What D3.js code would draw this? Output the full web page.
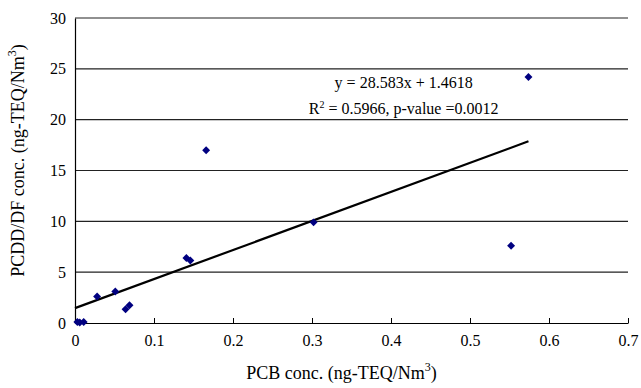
<!DOCTYPE html>
<html>
<head>
<meta charset="utf-8">
<script src="https://cdn.jsdelivr.net/npm/d3@7"></script>
<style>
  body { margin: 0; background: #fff; }
  svg text { font-family: "Liberation Serif", "Times New Roman", serif; fill: #000; }
</style>
</head>
<body>
<div id="chart"></div>
<script>
// PCB vs PCDD/DF concentrations
const pcb   = [0.003, 0.006, 0.011, 0.028, 0.051, 0.064, 0.069, 0.141, 0.146, 0.166, 0.302, 0.552, 0.574];
const pcdd  = [0.1, 0.05, 0.1, 2.6, 3.1, 1.35, 1.75, 6.4, 6.15, 17.0, 9.9, 7.6, 24.2];
const xTicks = [0, 0.1, 0.2, 0.3, 0.4, 0.5, 0.6, 0.7];
const yTicks = [0, 5, 10, 15, 20, 25, 30];
const slope = 28.583, intercept = 1.4618;

const width = 641, height = 388;
const margin = { top: 18, right: 13, bottom: 65, left: 75 };
const w = width - margin.left - margin.right;
const h = height - margin.top - margin.bottom;

const svg = d3.select('#chart').append('svg')
  .attr('width', width)
  .attr('height', height);

const g = svg.append('g')
  .attr('transform', 'translate(' + margin.left + ',' + margin.top + ')');

const x = d3.scaleLinear().domain([0, 0.7]).range([0, w]);
const y = d3.scaleLinear().domain([0, 30]).range([h, 0]);

// gridlines
g.append('g').selectAll('line')
  .data(yTicks.filter(d => d > 0))
  .enter().append('line')
    .attr('x1', 0).attr('x2', w)
    .attr('y1', d => y(d)).attr('y2', d => y(d))
    .attr('stroke', '#222').attr('stroke-width', 1.2);

// axes
const xAxis = d3.axisBottom(x).tickValues(xTicks).tickSizeInner(-5).tickSizeOuter(0)
  .tickFormat(d => d === 0 ? '0' : d3.format('.1f')(d));
const gx = g.append('g').attr('transform', 'translate(0,' + h + ')').call(xAxis);
gx.select('.domain').attr('stroke', '#000').attr('stroke-width', 1.2);
gx.selectAll('.tick line').attr('stroke', '#000');
gx.selectAll('.tick text').attr('y', 12).attr('dy', '0.71em').style('font-size', '16px');

const yAxis = d3.axisLeft(y).tickValues(yTicks).tickSize(0);
const gy = g.append('g').call(yAxis);
gy.select('.domain').attr('stroke', '#000').attr('stroke-width', 1.2);
gy.selectAll('.tick text').attr('x', -9).style('font-size', '16px');

// trend line
const x0 = 0, x1 = d3.max(pcb);
g.append('line')
  .attr('x1', x(x0)).attr('y1', y(slope * x0 + intercept))
  .attr('x2', x(x1)).attr('y2', y(slope * x1 + intercept))
  .attr('stroke', '#000').attr('stroke-width', 2.2);

// points
const diamond = d3.symbol().type(d3.symbolDiamond2).size(40);
g.append('g').selectAll('path')
  .data(pcb.map((d, i) => [d, pcdd[i]]))
  .enter().append('path')
    .attr('d', diamond)
    .attr('transform', d => 'translate(' + x(d[0]) + ',' + y(d[1]) + ')')
    .attr('fill', '#000080');

// equation
const eq = g.append('text')
  .attr('x', x(0.416)).attr('y', 70)
  .attr('text-anchor', 'middle')
  .style('font-size', '16px');
eq.append('tspan').text('y = 28.583x + 1.4618');
const r2 = g.append('text')
  .attr('x', x(0.416)).attr('y', 96)
  .attr('text-anchor', 'middle')
  .style('font-size', '16px');
r2.append('tspan').text('R');
r2.append('tspan').attr('dy', -6).style('font-size', '10px').text('2');
r2.append('tspan').attr('dy', 6).text(' = 0.5966, p-value =0.0012');

// axis labels
const xl = svg.append('text')
  .attr('x', margin.left + w / 2 - 10).attr('y', 379)
  .attr('text-anchor', 'middle')
  .style('font-size', '18px');
xl.append('tspan').text('PCB conc. (ng-TEQ/Nm');
xl.append('tspan').attr('dy', -8).style('font-size', '12px').text('3');
xl.append('tspan').attr('dy', 8).text(')');

const yl = svg.append('text')
  .attr('transform', 'translate(24,' + (margin.top + h / 2 - 10) + ') rotate(-90)')
  .attr('text-anchor', 'middle')
  .style('font-size', '18px');
yl.append('tspan').text('PCDD/DF conc. (ng-TEQ/Nm');
yl.append('tspan').attr('dy', -8).style('font-size', '12px').text('3');
yl.append('tspan').attr('dy', 8).text(')');
</script>
</body>
</html>
